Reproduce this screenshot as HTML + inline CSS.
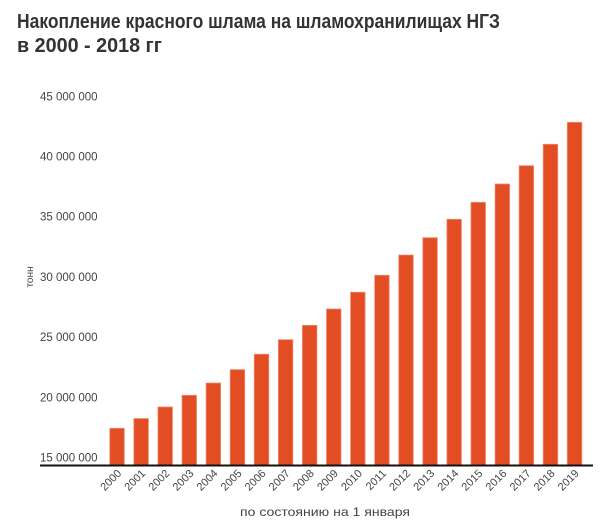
<!DOCTYPE html>
<html><head><meta charset="utf-8">
<style>
html,body{margin:0;padding:0;background:#fff;}
svg{display:block;font-family:"Liberation Sans",sans-serif;}
</style></head>
<body>
<svg id="chart" width="600" height="522" viewBox="0 0 600 522" xmlns="http://www.w3.org/2000/svg">
  <text x="17" y="28" font-size="20" font-weight="bold" fill="#333" textLength="483" lengthAdjust="spacingAndGlyphs">Накопление красного шлама на шламохранилищах НГЗ</text>
  <text x="17" y="52" font-size="20" font-weight="bold" fill="#333" textLength="145" lengthAdjust="spacingAndGlyphs">в 2000 - 2018 гг</text>
  <g id="yticks"></g>
  <g id="bars"></g>
  <g id="xticks"></g>
  <line x1="40" y1="465.5" x2="593" y2="465.5" stroke="#111" stroke-width="2"/>
  <text transform="translate(33,277) rotate(-90)" text-anchor="middle" font-size="10" fill="#444">тонн</text>
  <text x="240" y="516" font-size="12" fill="#444" textLength="170" lengthAdjust="spacingAndGlyphs">по состоянию на 1 января</text>
</svg>
<script>
const categories = ["2000","2001","2002","2003","2004","2005","2006","2007","2008","2009","2010","2011","2012","2013","2014","2015","2016","2017","2018","2019"];
const values = [18.09,18.9,19.86,20.83,21.85,22.96,24.24,25.45,26.64,28.0,29.39,30.8,32.48,33.92,35.45,36.86,38.38,39.9,41.68,43.5];
const yTicks = [15,20,25,30,35,40,45];
const yTickLabels = ["15 000 000","20 000 000","25 000 000","30 000 000","35 000 000","40 000 000","45 000 000"];

const NS = "http://www.w3.org/2000/svg";
const yMin = 15, yMax = 45, yBase = 465.5, yTop = 104.3;
function y(v){ return yBase - (v - yMin) / (yMax - yMin) * (yBase - yTop); }
const xStart = 105, step = 24.08, barW = 14.5;
function xc(i){ return xStart + step * (i + 0.5); }

const yg = document.getElementById('yticks');
yTicks.forEach((t, i) => {
  const tx = document.createElementNS(NS, 'text');
  tx.setAttribute('x', 40);
  tx.setAttribute('y', y(t) - 4);
  tx.setAttribute('font-size', '11.5');
  tx.setAttribute('fill', '#444');
  tx.textContent = yTickLabels[i];
  
  
  yg.appendChild(tx);
});

const bg = document.getElementById('bars');
const xg = document.getElementById('xticks');
categories.forEach((c, i) => {
  const r = document.createElementNS(NS, 'rect');
  r.setAttribute('x', xc(i) - barW / 2);
  r.setAttribute('y', y(values[i]));
  r.setAttribute('width', barW);
  r.setAttribute('height', yBase - y(values[i]));
  r.setAttribute('fill', '#e34d24');
  r.setAttribute('stroke', '#f08a6e');
  r.setAttribute('stroke-width', '0.8');
  
  
  bg.appendChild(r);

  const t = document.createElementNS(NS, 'text');
  const lx = xc(i) + 5, ly = 474;
  t.setAttribute('transform', 'translate(' + lx + ',' + ly + ') rotate(-45)');
  t.setAttribute('text-anchor', 'end');
  t.setAttribute('font-size', '11');
  t.setAttribute('fill', '#444');
  t.textContent = c;
  
  
  xg.appendChild(t);
});
</script>
</body></html>
